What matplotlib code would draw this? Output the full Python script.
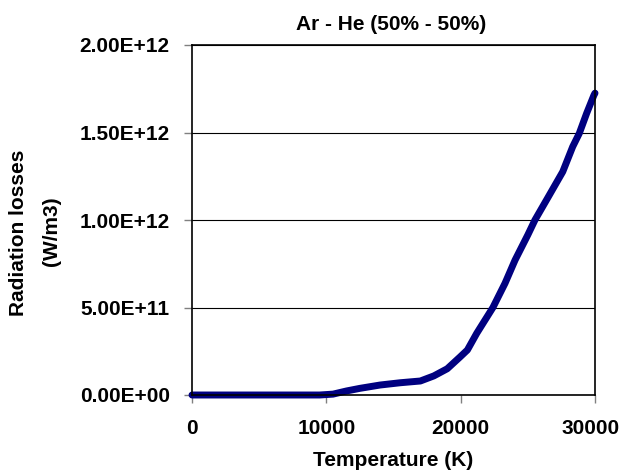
import matplotlib
matplotlib.use("Agg")
import matplotlib.pyplot as plt
import matplotlib.transforms as mtransforms
from matplotlib.ticker import FuncFormatter

# data
temperature = [0, 5000, 9500, 10500, 11500, 12500, 14000, 15500, 17000, 18000,
               19000, 19950, 20500, 21200, 22400, 23300, 24050, 25000, 25530,
               26530, 27600, 28340, 28830, 29380, 29925, 30000]
radiation = [0, 0, 0, 0.005e12, 0.023e12, 0.038e12, 0.057e12, 0.070e12,
             0.080e12, 0.109e12, 0.15e12, 0.217e12, 0.257e12, 0.353e12,
             0.5e12, 0.638e12, 0.771e12, 0.915e12, 1.0e12, 1.133e12,
             1.276e12, 1.419e12, 1.495e12, 1.61e12, 1.714e12, 1.725e12]

plt.rcParams['font.family'] = ['Liberation Sans', 'DejaVu Sans']
plt.rcParams['font.weight'] = 'bold'
fs = 15

fig = plt.figure(figsize=(6.23, 4.72), dpi=100)
ax = fig.add_axes([192/623, 1 - 395/472, 403/623, 350/472])

ax.plot(temperature, radiation, color='#000080', linewidth=5,
        solid_capstyle='round', solid_joinstyle='round', clip_on=False)

ax.set_xlim(0, 30000)
ax.set_ylim(0, 2e12)
ax.set_xticks([0, 10000, 20000, 30000])
ax.set_yticks([0, 0.5e12, 1e12, 1.5e12, 2e12])
ax.yaxis.set_major_formatter(FuncFormatter(lambda v, p: "%.2E" % v))
ax.tick_params(direction='out', length=6, width=1, color='#808080', labelsize=fs)
ax.tick_params(axis='y', pad=10)
ax.tick_params(axis='x', pad=11)
ax.yaxis.grid(True, color='black', linewidth=0.8)
ax.set_axisbelow(True)
for s in ax.spines.values():
    s.set_color('black')
    s.set_linewidth(1.2)

# last x label sits a little left of its tick, as in the reference
last = ax.get_xticklabels()[-1]
last.set_transform(last.get_transform() +
                   mtransforms.ScaledTranslation(-4/100, 0, fig.dpi_scale_trans))

fig.text(393/623, 1 - 461/472, "Temperature (K)", fontsize=fs,
         fontweight='bold', ha='center', va='center')
fig.text(19/623, 1 - 233/472, "Radiation losses", rotation=90, fontsize=fs,
         fontweight='bold', ha='center', va='center')
fig.text(51/623, 1 - 231/472, "(W/m3)", rotation=90, fontsize=fs,
         fontweight='bold', ha='center', va='center')
fig.text(391/623, 1 - 24/472, "Ar - He (50% - 50%)", fontsize=fs,
         fontweight='bold', ha='center', va='center')

fig.savefig("out.png", dpi=100)
